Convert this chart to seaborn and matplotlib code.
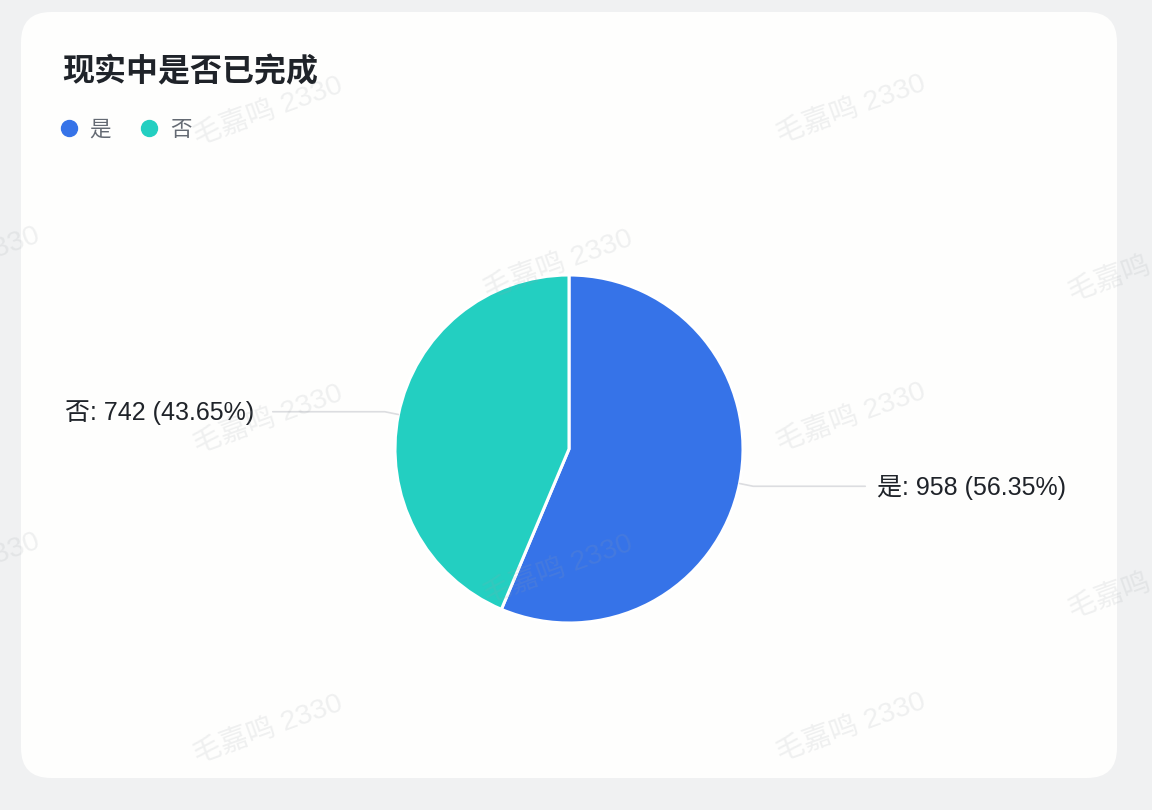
import matplotlib
matplotlib.use('Agg')
import numpy as np
import matplotlib.pyplot as plt
import seaborn as sns
from matplotlib.patches import FancyBboxPatch
from matplotlib.lines import Line2D

# data
title = '现实中是否已完成'
categories = ['是', '否']
counts = [958, 742]
colors = ['#3673e8', '#23cfc1']
watermark = '毛嘉鸣 2330'

sns.set_theme(style='white')
plt.rcParams['font.family'] = ['Noto Sans CJK SC', 'DejaVu Sans']
latin_first = ['Liberation Sans', 'Noto Sans CJK SC']

W, H = 1152, 810
fig = plt.figure(figsize=(W / 100, H / 100), dpi=100)
fig.patch.set_facecolor('#f0f1f2')
ax = fig.add_axes([0, 0, 1, 1])
ax.set_facecolor('#f0f1f2')

# card
card = FancyBboxPatch((21, H - 778), 1096, 766, boxstyle='round,pad=0,rounding_size=30',
                      facecolor='#fefefd', edgecolor='none', zorder=0)
ax.add_patch(card)

cx, cy, r = 569, H - 449, 174
total = sum(counts)
wedges, _ = ax.pie(counts, colors=colors, startangle=90, counterclock=False,
                   center=(cx, cy), radius=r,
                   wedgeprops=dict(edgecolor='white', linewidth=2.2))

ax.set_xlim(0, W)
ax.set_ylim(0, H)
ax.set_aspect('equal')
ax.axis('off')

# leader lines + labels
for w, cat, n in zip(wedges, categories, counts):
    th = np.deg2rad((w.theta1 + w.theta2) / 2)
    x0, y0 = cx + r * np.cos(th), cy + r * np.sin(th)
    x1, y1 = cx + (r + 14) * np.cos(th), cy + (r + 14) * np.sin(th)
    side = 1 if np.cos(th) >= 0 else -1
    x2 = x1 + side * 112
    ax.plot([x0, x1, x2], [y0, y1, y1], color='#dcdde0', lw=1.2, zorder=3)
    gap = 12 if side > 0 else 19
    ax.text(x2 + side * gap, y1 - 1, f'{cat}: {n} ({n / total * 100:.2f}%)',
            ha='left' if side > 0 else 'right', va='center',
            fontsize=18, color='#1f2329', family=latin_first, zorder=4)

# title
ax.text(62, H - 72, title, fontsize=23, fontweight='bold', color='#1f2329',
        ha='left', va='center')

# legend
handles = [Line2D([], [], marker='o', ls='', color=c, markersize=11.5) for c in colors]
ax.legend(handles, categories, ncol=2, loc='center left',
          bbox_to_anchor=(58, H - 130), bbox_transform=ax.transData,
          frameon=False, handletextpad=0.45, columnspacing=1.3, handlelength=1.0,
          borderpad=0, borderaxespad=0, fontsize=15.5, labelcolor='#646a73')

# watermark
wm_pos = [(268, 112), (851, 110),
          (-35, 262), (558, 265), (1143, 268),
          (268, 420), (851, 418),
          (-35, 568), (558, 570), (1143, 585),
          (268, 730), (851, 728)]
for px, py in wm_pos:
    ax.text(px, H - py, watermark, fontsize=20.5, color='#9aa0a6', alpha=0.15,
            family=latin_first, rotation=20, rotation_mode='anchor',
            ha='center', va='center', zorder=6)

fig.savefig('out.png', dpi=100, facecolor=fig.get_facecolor())
